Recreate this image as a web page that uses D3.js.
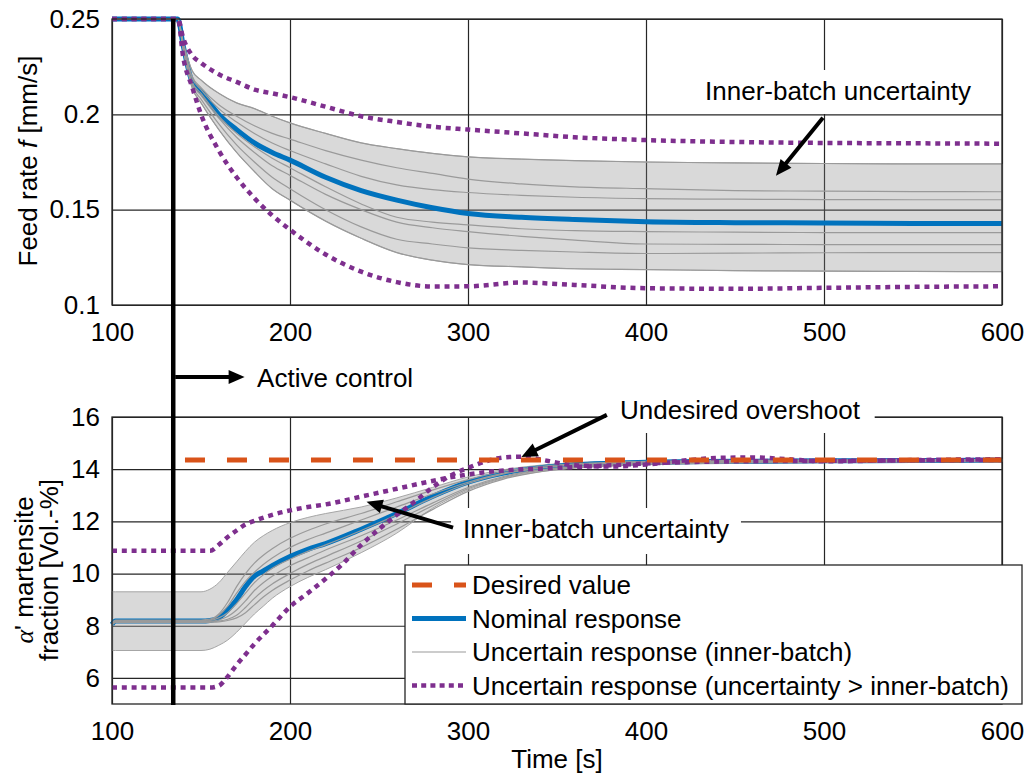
<!DOCTYPE html>
<html>
<head>
<meta charset="utf-8">
<script src="https://cdn.jsdelivr.net/npm/d3@7"></script>
<style>
  body { margin: 0; background: #fff; }
  svg { display: block; font-family: 'Liberation Sans', Arial, sans-serif; }
</style>
</head>
<body>
<div id="chart"></div>
<script>
// ---- data ----
const xTicks = [100, 200, 300, 400, 500, 600];
const feedTicks = [0.1, 0.15, 0.2, 0.25];
const fracTicks = [6, 8, 10, 12, 14, 16];

const controlStart = 134.4;

// feed rate (top panel)
const timeTop = [100, 134, 137, 140, 145, 150, 160, 170, 180, 190, 200, 220, 240, 260, 280, 300, 330, 360, 400, 450, 500, 550, 600];
const feedNominal = [0.25, 0.25, 0.25, 0.236, 0.217, 0.212, 0.200, 0.192, 0.185, 0.180, 0.176, 0.167, 0.160, 0.155, 0.151, 0.148, 0.146, 0.1448, 0.1437, 0.1432, 0.143, 0.1428, 0.1427];
const feedInner = [
  [0.25, 0.25, 0.25, 0.238, 0.223, 0.218, 0.211, 0.206, 0.203, 0.199, 0.1955, 0.190, 0.185, 0.182, 0.1795, 0.1777, 0.1765, 0.1757, 0.175, 0.1745, 0.1742, 0.174, 0.174],
  [0.25, 0.25, 0.25, 0.237, 0.220, 0.214, 0.205, 0.199, 0.194, 0.190, 0.187, 0.181, 0.176, 0.172, 0.169, 0.166, 0.1635, 0.162, 0.161, 0.160, 0.1597, 0.1595, 0.1594],
  [0.25, 0.25, 0.25, 0.236, 0.219, 0.213, 0.203, 0.196, 0.190, 0.185, 0.181, 0.174, 0.1675, 0.163, 0.1605, 0.159, 0.1575, 0.1565, 0.1558, 0.1555, 0.1553, 0.1552, 0.1552],
  [0.25, 0.25, 0.25, 0.235, 0.217, 0.211, 0.199, 0.190, 0.183, 0.177, 0.172, 0.162, 0.153, 0.146, 0.1435, 0.142, 0.140, 0.139, 0.1385, 0.1382, 0.138, 0.138, 0.138],
  [0.25, 0.25, 0.25, 0.235, 0.216, 0.210, 0.198, 0.188, 0.180, 0.173, 0.168, 0.158, 0.150, 0.1435, 0.1405, 0.1385, 0.136, 0.134, 0.132, 0.1318, 0.1317, 0.1317, 0.1317],
  [0.25, 0.25, 0.25, 0.234, 0.215, 0.208, 0.195, 0.184, 0.175, 0.167, 0.161, 0.150, 0.141, 0.1345, 0.132, 0.130, 0.1287, 0.1278, 0.127, 0.1272, 0.1274, 0.1275, 0.1275],
  [0.25, 0.25, 0.25, 0.234, 0.214, 0.206, 0.192, 0.180, 0.170, 0.161, 0.155, 0.144, 0.135, 0.1275, 0.1235, 0.1212, 0.120, 0.119, 0.1186, 0.118, 0.1178, 0.1176, 0.1175],
];
const feedBandHi = feedInner[0];
const feedBandLo = feedInner[6];
const feedOuterHi = [0.25, 0.25, 0.25, 0.240, 0.231, 0.227, 0.221, 0.217, 0.213, 0.211, 0.209, 0.204, 0.199, 0.196, 0.1935, 0.192, 0.190, 0.188, 0.1865, 0.1855, 0.185, 0.1848, 0.1846];
const feedOuterLo = [0.25, 0.25, 0.25, 0.230, 0.2144, 0.200, 0.181, 0.167, 0.156, 0.147, 0.1395, 0.1265, 0.1175, 0.112, 0.1097, 0.1098, 0.1118, 0.1105, 0.1088, 0.1085, 0.109, 0.1095, 0.1098];

// martensite fraction (bottom panel)
const timeBot = [100, 102, 150, 155, 160, 165, 170, 175, 180, 185, 190, 200, 210, 220, 240, 260, 280, 300, 320, 340, 360, 380, 400, 450, 500, 550, 600];
const fracNominal = [8.05, 8.18, 8.18, 8.2, 8.3, 8.6, 9.0, 9.5, 9.9, 10.1, 10.3, 10.65, 10.93, 11.15, 11.7, 12.3, 12.95, 13.5, 13.85, 14.05, 14.17, 14.23, 14.27, 14.3, 14.32, 14.33, 14.35];
const fracBandHi = [9.3, 9.3, 9.3, 9.4, 9.65, 10.05, 10.45, 10.85, 11.2, 11.45, 11.65, 11.95, 12.15, 12.3, 12.55, 12.9, 13.3, 13.7, 13.98, 14.15, 14.25, 14.3, 14.33, 14.37, 14.38, 14.38, 14.4];
const fracBandLo = [7.05, 7.05, 7.05, 7.1, 7.25, 7.45, 7.75, 8.1, 8.45, 8.75, 9.05, 9.5, 9.85, 10.15, 10.8, 11.55, 12.5, 13.2, 13.65, 13.9, 14.05, 14.12, 14.17, 14.22, 14.25, 14.27, 14.28];
const fracInner = [
  [8.1, 8.22, 8.22, 8.25, 8.45, 8.9, 9.5, 10.0, 10.4, 10.7, 10.95, 11.35, 11.65, 11.9, 12.3, 12.75, 13.2, 13.6, 13.92, 14.1, 14.2, 14.26, 14.3, 14.34, 14.35, 14.36, 14.37],
  [8.1, 8.2, 8.2, 8.22, 8.4, 8.75, 9.25, 9.7, 10.05, 10.35, 10.6, 11.0, 11.3, 11.55, 12.05, 12.55, 13.05, 13.5, 13.85, 14.05, 14.17, 14.24, 14.28, 14.32, 14.34, 14.35, 14.36],
  [8.08, 8.18, 8.18, 8.2, 8.3, 8.5, 8.85, 9.25, 9.65, 9.95, 10.2, 10.55, 10.85, 11.1, 11.65, 12.25, 12.9, 13.45, 13.82, 14.03, 14.15, 14.22, 14.26, 14.3, 14.32, 14.33, 14.34],
  [8.06, 8.16, 8.16, 8.17, 8.22, 8.35, 8.6, 8.95, 9.35, 9.65, 9.9, 10.3, 10.6, 10.9, 11.45, 12.05, 12.7, 13.3, 13.72, 13.97, 14.1, 14.18, 14.23, 14.28, 14.3, 14.31, 14.32],
  [8.04, 8.14, 8.14, 8.15, 8.18, 8.25, 8.4, 8.7, 9.05, 9.35, 9.6, 10.0, 10.35, 10.65, 11.25, 11.9, 12.6, 13.25, 13.68, 13.95, 14.08, 14.16, 14.21, 14.26, 14.28, 14.3, 14.31],
  [8.02, 8.12, 8.12, 8.13, 8.15, 8.2, 8.3, 8.5, 8.8, 9.1, 9.35, 9.75, 10.1, 10.4, 11.0, 11.7, 12.45, 13.15, 13.62, 13.9, 14.05, 14.13, 14.19, 14.24, 14.26, 14.28, 14.29],
];
const timeOuterA = [100, 155, 160, 165, 170, 175, 180, 190, 200, 210, 220, 240, 260, 280, 300, 320, 340, 360, 380, 400, 450, 500, 550, 600];
const fracOuterA = [10.87, 10.87, 11.1, 11.4, 11.65, 11.88, 12.02, 12.25, 12.42, 12.55, 12.65, 12.95, 13.25, 13.55, 13.8, 13.95, 14.02, 14.08, 14.15, 14.22, 14.3, 14.32, 14.34, 14.35];
const timeOuterB = [100, 155, 160, 165, 170, 175, 180, 190, 200, 210, 220, 230, 240, 250, 260, 270, 280, 290, 300, 310, 320, 330, 340, 350, 360, 380, 400, 420, 440, 460, 480, 500, 550, 600];
const fracOuterB = [5.63, 5.63, 5.7, 6.05, 6.5, 6.9, 7.3, 8.0, 8.73, 9.25, 9.8, 10.4, 11.1, 11.7, 12.25, 12.75, 13.3, 13.75, 14.05, 14.3, 14.45, 14.48, 14.38, 14.25, 14.15, 14.1, 14.18, 14.32, 14.43, 14.45, 14.38, 14.3, 14.35, 14.38];
const timeDesired = [141, 600];
const fracDesired = [14.35, 14.35];

const legendLabels = ['Desired value', 'Nominal response', 'Uncertain response (inner-batch)', 'Uncertain response (uncertainty > inner-batch)'];

// ---- styles ----
const blue = '#0072BD';
const orange = '#D95319';
const purple = '#7E2F8E';
const grayLine = '#9a9a9a';
const gridColor = '#262626';
const fs = 26;

const W = 1029;
const H = 776;

const svg = d3.select('#chart').append('svg').attr('width', W).attr('height', H);

const x = d3.scaleLinear().domain([100, 600]).range([112, 1002]);
const yTop = d3.scaleLinear().domain([0.1, 0.25]).range([305, 19]);
const yBot = d3.scaleLinear().domain([5, 16]).range([704, 417]);

const zip = (ts, vs) => ts.map((t, i) => ({ t, v: vs[i] }));

function drawFrame(y, ticks, fmt) {
  const [y0, y1] = y.range();
  const g = svg.append('g');
  // vertical grid
  g.append('g').attr('transform', `translate(0,${y0})`)
    .call(d3.axisBottom(x).tickValues(xTicks).tickSize(-(y0 - y1)).tickFormat(''))
    .call((a) => a.select('.domain').remove())
    .call((a) => a.selectAll('line').attr('stroke', gridColor).attr('stroke-width', 1.2));
  // horizontal grid
  g.append('g').attr('transform', `translate(${x(100)},0)`)
    .call(d3.axisLeft(y).tickValues(ticks).tickSize(-(x(600) - x(100))).tickFormat(''))
    .call((a) => a.select('.domain').remove())
    .call((a) => a.selectAll('line').attr('stroke', gridColor).attr('stroke-width', 1.2));
  // tick labels
  g.append('g').attr('transform', `translate(0,${y0})`)
    .call(d3.axisBottom(x).tickValues(xTicks).tickSize(0).tickPadding(18).tickFormat(d3.format('d')))
    .call((a) => a.select('.domain').remove())
    .call((a) => a.selectAll('text').attr('font-size', fs).attr('font-family', 'Liberation Sans, Arial, sans-serif').attr('fill', '#000'));
  g.append('g').attr('transform', `translate(${x(100)},0)`)
    .call(d3.axisLeft(y).tickValues(ticks).tickSize(0).tickPadding(12).tickFormat(fmt))
    .call((a) => a.select('.domain').remove())
    .call((a) => a.selectAll('text').attr('font-size', fs).attr('font-family', 'Liberation Sans, Arial, sans-serif').attr('fill', '#000'));
  return g;
}

function drawBox(y) {
  const [y0, y1] = y.range();
  svg.append('rect')
    .attr('x', x(100)).attr('y', y1)
    .attr('width', x(600) - x(100)).attr('height', y0 - y1)
    .attr('fill', 'none').attr('stroke', gridColor).attr('stroke-width', 1.3);
}

function drawData(y, ts, nominal, bandHi, bandLo, inner, outer, curve) {
  const g = svg.append('g');
  const area = d3.area().curve(curve)
    .x((d) => x(d.t)).y0((d) => y(d.lo)).y1((d) => y(d.hi));
  const band = ts.map((t, i) => ({ t, hi: bandHi[i], lo: bandLo[i] }));
  g.append('path').datum(band)
    .attr('d', area)
    .attr('fill', '#808080').attr('fill-opacity', 0.3)
    .attr('stroke', '#a6a6a6').attr('stroke-width', 1);

  const line = d3.line().curve(curve).x((d) => x(d.t)).y((d) => y(d.v));
  g.append('path').datum(zip(ts, nominal))
    .attr('d', line).attr('fill', 'none')
    .attr('stroke', blue).attr('stroke-width', 5).attr('stroke-linejoin', 'round');
  inner.forEach((vals) => {
    g.append('path').datum(zip(ts, vals))
      .attr('d', line).attr('fill', 'none')
      .attr('stroke', grayLine).attr('stroke-width', 1.2);
  });
  outer.forEach(([tt, vals]) => {
    g.append('path').datum(zip(tt, vals))
      .attr('d', line).attr('fill', 'none')
      .attr('stroke', purple).attr('stroke-width', 4.5)
      .attr('stroke-dasharray', '5,4.8');
  });
  return g;
}

// top panel
drawFrame(yTop, feedTicks, (d) => String(d));
drawData(yTop, timeTop, feedNominal, feedBandHi, feedBandLo, feedInner,
  [[timeTop, feedOuterHi], [timeTop, feedOuterLo]], d3.curveMonotoneX);
drawBox(yTop);

// bottom panel
drawFrame(yBot, fracTicks, d3.format('d'));
const gb = drawData(yBot, timeBot, fracNominal, fracBandHi, fracBandLo, fracInner,
  [[timeOuterA, fracOuterA], [timeOuterB, fracOuterB]], d3.curveMonotoneX);
gb.append('path').datum(zip(timeDesired, fracDesired))
  .attr('d', d3.line().x((d) => x(d.t)).y((d) => yBot(d.v)))
  .attr('fill', 'none').attr('stroke', orange).attr('stroke-width', 5)
  .attr('stroke-dasharray', '20,22');
drawBox(yBot);

// active control line
svg.append('line')
  .attr('x1', x(controlStart)).attr('x2', x(controlStart))
  .attr('y1', yTop(0.25)).attr('y2', yBot(5) + 1)
  .attr('stroke', '#000').attr('stroke-width', 4.5);

// axis labels
svg.append('text')
  .attr('transform', `translate(37,161) rotate(-90)`)
  .attr('text-anchor', 'middle').attr('font-size', fs)
  .call((t) => {
    t.append('tspan').text('Feed rate ');
    t.append('tspan').attr('font-style', 'italic').text('f');
    t.append('tspan').text(' [mm/s]');
  });
const ylab = svg.append('text')
  .attr('transform', `translate(33,570) rotate(-90)`)
  .attr('text-anchor', 'middle').attr('font-size', fs);
ylab.append('tspan').attr('x', 0).attr('y', 0)
  .attr('font-family', 'Liberation Serif, serif').attr('font-style', 'italic').text('α');
ylab.append('tspan').text('\' martensite');
ylab.append('tspan').attr('x', 0).attr('y', 25).text('fraction [Vol.-%]');

svg.append('text')
  .attr('x', (x(100) + x(600)) / 2).attr('y', 768)
  .attr('text-anchor', 'middle').attr('font-size', fs)
  .text('Time [s]');

// annotations
function arrow(x1, y1, x2, y2) {
  const len = Math.hypot(x2 - x1, y2 - y1);
  const ux = (x2 - x1) / len;
  const uy = (y2 - y1) / len;
  const hl = 16;
  const hw = 7;
  const bx = x2 - ux * hl;
  const by = y2 - uy * hl;
  svg.append('line')
    .attr('x1', x1).attr('y1', y1).attr('x2', bx + ux * 2).attr('y2', by + uy * 2)
    .attr('stroke', '#000').attr('stroke-width', 4);
  svg.append('path')
    .attr('d', `M${x2},${y2}L${bx - uy * hw},${by + ux * hw}L${bx + uy * hw},${by - ux * hw}Z`)
    .attr('fill', '#000');
}

function boxedText(label, cx, baseline, anchor, padX, padTop, padBottom) {
  const g = svg.append('g');
  const rect = g.append('rect').attr('fill', '#fff');
  const t = g.append('text')
    .attr('x', cx).attr('y', baseline)
    .attr('text-anchor', anchor).attr('font-size', fs)
    .text(label);
  const bb = t.node().getBBox();
  rect.attr('x', bb.x - padX).attr('y', bb.y - padTop)
    .attr('width', bb.width + 2 * padX).attr('height', bb.height + padTop + padBottom);
}

boxedText('Inner-batch uncertainty', 838, 100, 'middle', 7, 6, 8);
arrow(x(499.4), yTop(0.1982), x(473), yTop(0.1678));

boxedText('Undesired overshoot', 620, 419, 'start', 14, 6, 8);
arrow(x(378), yBot(16.08), x(330), yBot(14.47));

boxedText('Inner-batch uncertainty', 596, 538, 'middle', 12, 6, 10);
arrow(x(291.6), yBot(11.76), x(243), yBot(12.75));

arrow(x(135.5), 377, x(174.5), 377);
svg.append('text')
  .attr('x', x(181.5)).attr('y', 387)
  .attr('font-size', fs).text('Active control');

// legend
const legend = svg.append('g');
legend.append('rect')
  .attr('x', 405).attr('y', 565).attr('width', 617).attr('height', 139)
  .attr('fill', '#fff').attr('stroke', gridColor).attr('stroke-width', 1.3);
const legendStyles = [
  { color: orange, width: 5, dash: '20,22' },
  { color: blue, width: 5, dash: null },
  { color: grayLine, width: 1.2, dash: null },
  { color: purple, width: 4.5, dash: '5,4.2' },
];
legendLabels.forEach((label, i) => {
  const cy = 585 + i * 33.5;
  const st = legendStyles[i];
  legend.append('line')
    .attr('x1', 412).attr('x2', 466).attr('y1', cy).attr('y2', cy)
    .attr('stroke', st.color).attr('stroke-width', st.width)
    .attr('stroke-dasharray', st.dash);
  legend.append('text')
    .attr('x', 472).attr('y', cy).attr('dy', '0.35em')
    .attr('font-size', fs).text(label);
});
</script>
</body>
</html>
